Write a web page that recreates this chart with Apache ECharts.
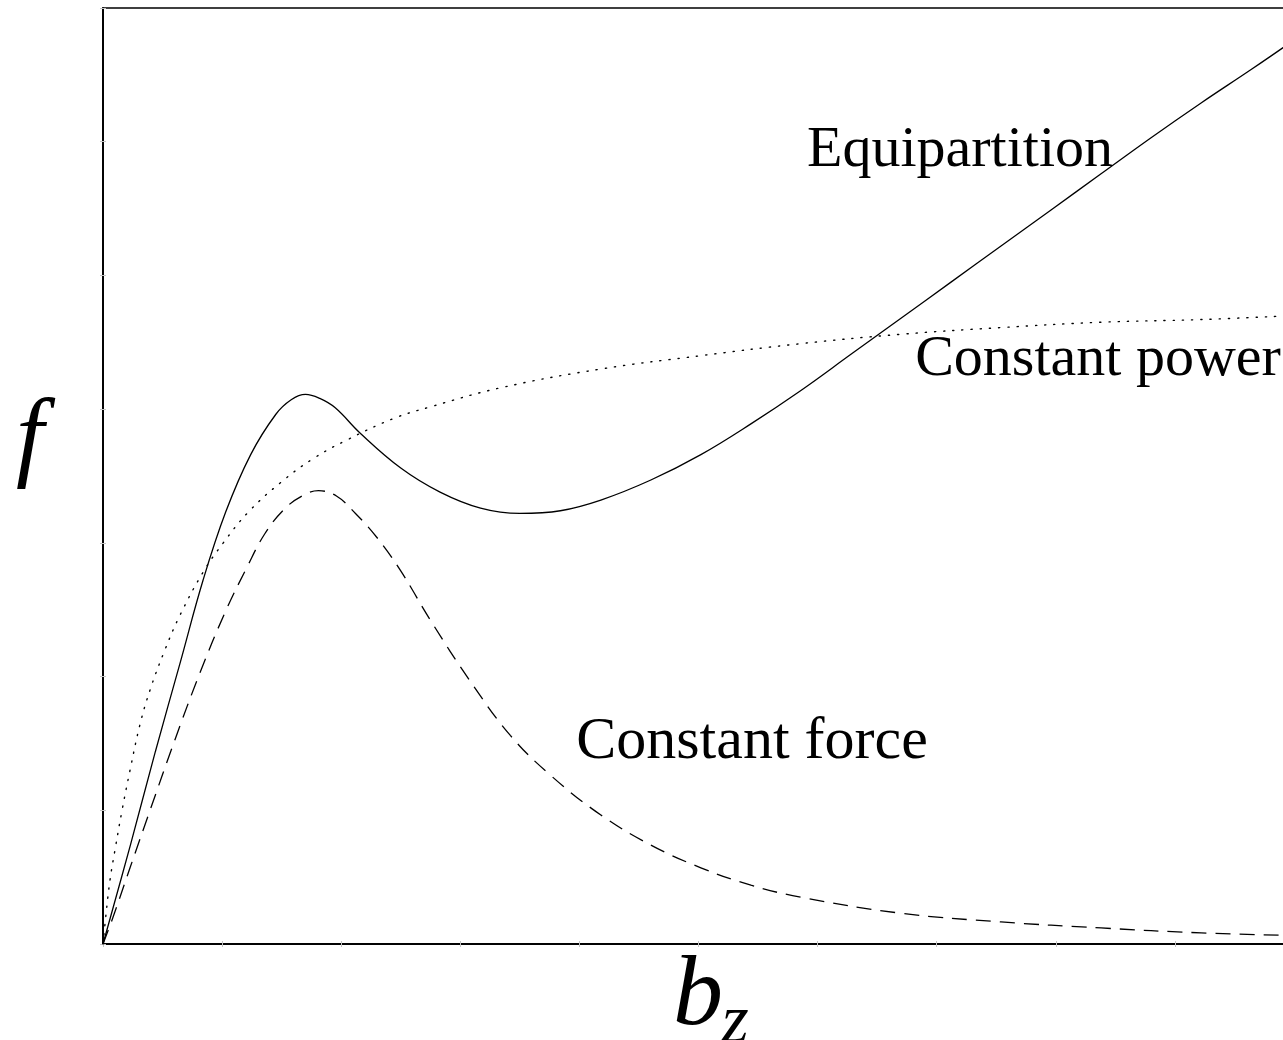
<!DOCTYPE html>
<html>
<head>
<meta charset="utf-8">
<script src="https://cdn.jsdelivr.net/npm/echarts@6/dist/echarts.min.js"></script>
<style>
  html, body { margin: 0; padding: 0; overflow: hidden; background: #fff; }
  #chart { width: 1300px; height: 1040px; }
</style>
</head>
<body>
<div id="chart"></div>
<script>
// Equipartition (solid)
const equipBz = [0, 0.23, 0.44, 0.65, 0.84, 1.03, 1.24, 1.45, 1.58, 1.70, 1.82, 1.95, 2.16, 2.50, 2.83, 3.17, 3.50, 3.84, 4.18, 4.60, 5.02, 5.44, 5.86, 6.28, 6.70, 7.12, 7.54, 7.96, 8.38, 8.80, 9.22, 9.64, 10.0];
const equipF  = [0, 0.74, 1.44, 2.11, 2.72, 3.23, 3.66, 3.96, 4.07, 4.11, 4.08, 4.01, 3.82, 3.56, 3.38, 3.26, 3.22, 3.24, 3.32, 3.47, 3.66, 3.89, 4.14, 4.41, 4.68, 4.95, 5.22, 5.49, 5.76, 6.03, 6.29, 6.54, 6.76];

// Constant force (dashed)
const forceBz = [0, 0.084, 0.227, 0.395, 0.605, 0.815, 1.025, 1.21, 1.36, 1.52, 1.67, 1.81, 1.96, 2.12, 2.30, 2.50, 2.75, 3.08, 3.42, 3.76, 4.18, 4.60, 5.02, 5.44, 5.86, 6.70, 7.54, 8.38, 9.22, 10.0];
const forceF  = [0, 0.20, 0.57, 1.00, 1.53, 2.03, 2.48, 2.82, 3.07, 3.25, 3.35, 3.39, 3.35, 3.22, 3.04, 2.79, 2.42, 1.97, 1.56, 1.26, 0.965, 0.74, 0.57, 0.44, 0.35, 0.23, 0.165, 0.12, 0.083, 0.063];

// Constant power (dotted)
const powerBz = [0, 0.025, 0.059, 0.10, 0.16, 0.227, 0.31, 0.395, 0.52, 0.647, 0.84, 1.01, 1.22, 1.49, 1.765, 2.05, 2.44, 2.76, 3.34, 4.18, 5.02, 5.86, 6.70, 7.54, 8.38, 9.22, 10.0];
const powerF  = [0, 0.22, 0.48, 0.70, 1.00, 1.30, 1.64, 1.90, 2.20, 2.46, 2.78, 3.00, 3.23, 3.45, 3.63, 3.77, 3.93, 4.02, 4.16, 4.30, 4.40, 4.49, 4.56, 4.61, 4.65, 4.67, 4.70];

const curveLabels = ['Equipartition', 'Constant power', 'Constant force'];
const axisNames = ['b', 'z', 'f'];

const pairs = (xs, ys) => xs.map((x, i) => [x, ys[i]]);

const serif = '"Liberation Serif", "DejaVu Serif", serif';

const frameAxis = (pos, max) => ({
  type: 'value', position: pos, min: 0, max: max, interval: 1,
  axisLine: { show: true, lineStyle: { color: '#000', width: 1.5 } },
  axisTick: { show: true, inside: true, length: 3, lineStyle: { color: '#c4c4c4', width: 1 } },
  axisLabel: { show: false }, splitLine: { show: false }
});

const chart = echarts.init(document.getElementById('chart'), null, { renderer: 'canvas' });

chart.setOption({
  animation: false,
  backgroundColor: '#fff',
  grid: { left: 103, right: 6, top: 8, bottom: 96, show: true, borderColor: '#000', borderWidth: 1.5 },
  xAxis: [frameAxis('bottom', 10), frameAxis('top', 10)],
  yAxis: [frameAxis('left', 7), frameAxis('right', 7)],
  series: [
    {
      name: curveLabels[0], type: 'line', data: pairs(equipBz, equipF),
      smooth: 0.4, showSymbol: false, clip: true,
      lineStyle: { color: '#000', width: 1.3 }
    },
    {
      name: curveLabels[1], type: 'line', data: pairs(powerBz, powerF),
      smooth: 0.4, showSymbol: false, clip: true,
      lineStyle: { color: '#000', width: 1.4, type: [1.2, 8], cap: 'round' }
    },
    {
      name: curveLabels[2], type: 'line', data: pairs(forceBz, forceF),
      smooth: 0.4, showSymbol: false, clip: true,
      lineStyle: { color: '#000', width: 1.3, type: [15, 9] }
    }
  ],
  graphic: [
    { type: 'text', x: 960, y: 151, style: { text: curveLabels[0], font: '58px ' + serif, fill: '#000', align: 'center', verticalAlign: 'middle' } },
    { type: 'text', x: 1098, y: 360, style: { text: curveLabels[1], font: '58px ' + serif, fill: '#000', align: 'center', verticalAlign: 'middle' } },
    { type: 'text', x: 752, y: 742, style: { text: curveLabels[2], font: '60px ' + serif, fill: '#000', align: 'center', verticalAlign: 'middle' } },
    { type: 'text', x: 30, y: 442, style: { text: axisNames[2], font: 'italic 100px ' + serif, fill: '#000', align: 'center', verticalAlign: 'middle' } },
    { type: 'text', x: 698, y: 998, style: { text: axisNames[0], font: 'italic 100px ' + serif, fill: '#000', align: 'center', verticalAlign: 'middle' } },
    { type: 'text', x: 735, y: 1024, style: { text: axisNames[1], font: 'italic 70px ' + serif, fill: '#000', align: 'center', verticalAlign: 'middle' } }
  ]
});
</script>
</body>
</html>
